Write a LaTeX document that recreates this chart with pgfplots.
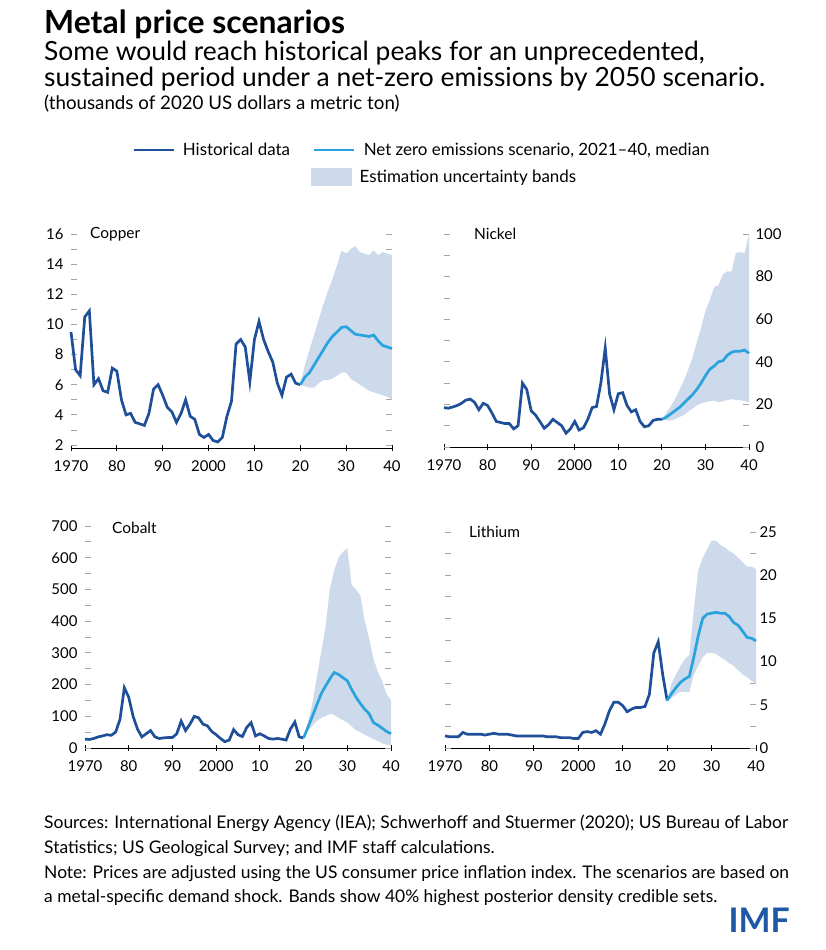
\documentclass[border=0pt]{standalone}
\usepackage{fontspec}
\setmainfont{Lato}
\usepackage{pgfplots}
\pgfplotsset{compat=1.18}
\usepackage{pgfplotstable}
\usepgfplotslibrary{fillbetween}

\definecolor{histblue}{RGB}{30,79,152}
\definecolor{medblue}{RGB}{41,163,221}
\definecolor{bandblue}{RGB}{204,218,235}
\definecolor{tickgray}{RGB}{165,165,165}
\definecolor{imfblue}{RGB}{31,88,164}

% historical series (year, value)
\pgfplotstableread{
year val
1970 9.5
1971 7.0
1972 6.6
1973 10.5
1974 10.9
1975 6.0
1976 6.4
1977 5.6
1978 5.5
1979 7.1
1980 6.9
1981 5.0
1982 4.0
1983 4.1
1984 3.5
1985 3.4
1986 3.3
1987 4.1
1988 5.7
1989 6.0
1990 5.3
1991 4.5
1992 4.2
1993 3.5
1994 4.1
1995 5.0
1996 3.9
1997 3.7
1998 2.7
1999 2.5
2000 2.7
2001 2.3
2002 2.2
2003 2.5
2004 3.9
2005 4.9
2006 8.7
2007 9.0
2008 8.5
2009 6.2
2010 9.0
2011 10.2
2012 9.0
2013 8.2
2014 7.5
2015 6.1
2016 5.3
2017 6.5
2018 6.7
2019 6.1
2020 6.0
}\copperhist

\pgfplotstableread{
year med lo hi
2020 6.0 6.0 6.0
2021 6.5 5.9 7.3
2022 6.8 5.8 8.3
2023 7.3 5.8 9.3
2024 7.8 6.1 10.3
2025 8.3 6.3 11.3
2026 8.8 6.3 12.2
2027 9.2 6.4 13.0
2028 9.5 6.6 13.9
2029 9.8 6.8 14.9
2030 9.85 6.8 14.7
2031 9.6 6.4 15.0
2032 9.35 6.2 15.2
2033 9.3 6.0 14.8
2034 9.25 5.8 14.7
2035 9.2 5.6 14.6
2036 9.3 5.5 14.9
2037 8.9 5.4 14.6
2038 8.6 5.3 14.8
2039 8.5 5.2 14.7
2040 8.4 5.0 14.6
}\copperproj

\pgfplotstableread{
year val
1970 18.5
1971 18.2
1972 18.8
1973 19.5
1974 20.5
1975 22.0
1976 22.5
1977 21.0
1978 17.5
1979 20.5
1980 19.5
1981 16.0
1982 12.0
1983 11.5
1984 11.0
1985 11.0
1986 8.5
1987 10.0
1988 30.0
1989 27.0
1990 17.0
1991 15.0
1992 12.0
1993 8.8
1994 10.5
1995 13.0
1996 11.5
1997 10.0
1998 6.5
1999 8.5
2000 12.0
2001 8.0
2002 9.0
2003 13.0
2004 18.5
2005 19.0
2006 30.0
2007 46.5
2008 25.0
2009 17.5
2010 25.0
2011 25.5
2012 19.5
2013 16.5
2014 17.5
2015 12.0
2016 9.5
2017 10.0
2018 12.5
2019 13.0
2020 13.0
}\nickelhist

\pgfplotstableread{
year med lo hi
2020 13.0 13.0 13.0
2021 14.0 12.5 16.0
2022 15.5 12.5 19.0
2023 17.0 13.0 22.5
2024 18.5 14.0 26.5
2025 20.5 15.0 31.0
2026 22.5 16.5 36.0
2027 24.5 18.0 42.0
2028 27.0 19.5 49.0
2029 30.0 20.5 56.0
2030 33.5 21.0 64.0
2031 36.5 21.5 69.0
2032 38.0 21.8 75.0
2033 40.0 21.0 76.0
2034 40.5 21.5 81.0
2035 43.0 22.0 82.5
2036 44.5 22.5 82.5
2037 45.0 22.0 91.0
2038 45.0 22.0 91.5
2039 45.5 21.5 91.0
2040 44.0 21.0 100.0
}\nickelproj

\pgfplotstableread{
year val
1970 28
1971 27
1972 30
1973 35
1974 38
1975 42
1976 40
1977 50
1978 90
1979 190
1980 160
1981 100
1982 60
1983 35
1984 45
1985 55
1986 35
1987 30
1988 32
1989 33
1990 33
1991 45
1992 85
1993 55
1994 75
1995 100
1996 95
1997 75
1998 70
1999 52
2000 42
2001 30
2002 20
2003 25
2004 58
2005 42
2006 36
2007 65
2008 80
2009 38
2010 45
2011 38
2012 30
2013 28
2014 30
2015 28
2016 25
2017 60
2018 82
2019 35
2020 32
}\cobalthist

\pgfplotstableread{
year med lo hi
2020 32 32 32
2021 65 55 80
2022 100 70 140
2023 135 85 220
2024 170 95 300
2025 195 100 380
2026 218 108 500
2027 238 105 560
2028 232 95 600
2029 222 88 618
2030 212 80 630
2031 185 68 515
2032 160 55 500
2033 140 50 480
2034 122 42 400
2035 108 35 345
2036 80 28 280
2037 72 22 240
2038 62 15 210
2039 52 10 170
2040 45 8 150
}\cobaltproj

\pgfplotstableread{
year val
1970 1.4
1971 1.3
1972 1.3
1973 1.3
1974 1.8
1975 1.6
1976 1.6
1977 1.6
1978 1.6
1979 1.5
1980 1.6
1981 1.7
1982 1.6
1983 1.6
1984 1.6
1985 1.5
1986 1.4
1987 1.4
1988 1.4
1989 1.4
1990 1.4
1991 1.4
1992 1.4
1993 1.3
1994 1.3
1995 1.3
1996 1.2
1997 1.2
1998 1.2
1999 1.1
2000 1.1
2001 1.8
2002 1.9
2003 1.8
2004 2.0
2005 1.6
2006 2.8
2007 4.3
2008 5.3
2009 5.3
2010 4.9
2011 4.2
2012 4.5
2013 4.7
2014 4.7
2015 4.8
2016 6.2
2017 11.0
2018 12.3
2019 8.5
2020 5.5
}\lithiumhist

\pgfplotstableread{
year med lo hi
2020 5.5 5.5 5.5
2021 6.3 5.8 7.5
2022 7.0 6.2 8.5
2023 7.6 6.5 9.5
2024 8.0 6.5 10.3
2025 8.3 6.5 10.8
2026 10.5 8.5 16.0
2027 13.0 9.5 20.5
2028 15.0 10.5 22.0
2029 15.5 11.0 23.0
2030 15.6 11.0 24.0
2031 15.7 10.9 24.0
2032 15.6 10.5 23.5
2033 15.6 10.2 23.2
2034 15.2 9.8 22.8
2035 14.5 9.5 22.5
2036 14.2 9.0 22.0
2037 13.5 8.5 21.5
2038 12.8 8.2 21.0
2039 12.7 7.8 21.0
2040 12.4 7.4 20.7
}\lithiumproj

\pgfplotsset{
  metal/.style={
    scale only axis, clip=false,
    xmin=1970, xmax=2040,
    xtick={1970,1980,...,2040},
    xticklabels={1970,80,90,2000,10,20,30,40},
    xtick pos=bottom,
    axis line style={draw=none},
    tick label style={font=\fontsize{15}{15}\selectfont},
    xticklabel style={yshift=-9bp},
    /pgf/number format/assume math mode=true,
    /pgf/number format/1000 sep={},
    xtick style={black, line width=0.8bp, yshift=-3bp},
    ytick style={tickgray, line width=0.8bp},
    major tick length=6bp, minor tick length=6bp,
    tick align=inside,
    minor y tick num=1,
    extra y tick labels={},
    extra y tick style={grid=major, major grid style={black, line width=0.9bp}, major tick length=0pt},
    legend style={draw=none, fill=none, inner sep=0pt,
      font=\fontsize{17}{17}\selectfont,
      /tikz/every odd column/.append style={column sep=6bp},
      /tikz/every even column/.append style={column sep=21bp}},
    legend cell align=left,
    legend image code/.code={\draw[#1] (0bp,0bp) -- (40bp,0bp);},
  },
  bandlo/.style={name path=lo, draw=none, forget plot},
  bandhi/.style={name path=hi, draw=none, forget plot},
  histline/.style={histblue, line width=2.7bp, forget plot},
  medline/.style={medblue, line width=2.7bp, forget plot},
}

\begin{document}
\begin{tikzpicture}
\path (0,0) rectangle (826bp,-950bp);

% Copper (carries the two line legend entries)
\begin{axis}[metal, at={(71bp,-448bp)}, anchor=south west,
  width=321bp, height=214bp, ymin=1.8, ymax=16,
  ytick={2,4,...,16}, extra y ticks={1.8},
  yticklabel style={xshift=-4bp},
  legend columns=-1,
  legend style={at={(0.19,1.3925)}, anchor=west},
  ]
  \addplot[bandhi] table[x=year, y=hi] {\copperproj};
  \addplot[bandlo] table[x=year, y=lo] {\copperproj};
  \addplot[bandblue, draw=none, forget plot] fill between[of=hi and lo];
  \addplot[histline] table[x=year, y=val] {\copperhist};
  \addplot[medline] table[x=year, y=med] {\copperproj};
  \addlegendimage{histblue, line width=2.7bp}
  \addlegendentry{Historical data}
  \addlegendimage{medblue, line width=2.7bp}
  \addlegendentry{Net zero emissions scenario, 2021–40, median}
\end{axis}

% Nickel (carries the band legend entry)
\begin{axis}[metal, at={(444bp,-447bp)}, anchor=south west,
  width=305bp, height=213bp, ymin=0, ymax=100,
  ytick={0,20,...,100}, extra y ticks={0},
  yticklabel pos=right, yticklabel style={xshift=3bp},
  legend style={at={(-0.436,1.2676)}, anchor=west},
  ]
  \addplot[bandhi] table[x=year, y=hi] {\nickelproj};
  \addplot[bandlo] table[x=year, y=lo] {\nickelproj};
  \addplot[bandblue, draw=none, forget plot] fill between[of=hi and lo];
  \addplot[histline] table[x=year, y=val] {\nickelhist};
  \addplot[medline] table[x=year, y=med] {\nickelproj};
  \addlegendimage{legend image code/.code={\fill[bandblue] (0bp,-8.5bp) rectangle (40bp,8.5bp);}}
  \addlegendentry{Estimation uncertainty bands}
\end{axis}

% Cobalt
\begin{axis}[metal, at={(85bp,-748bp)}, anchor=south west,
  width=306bp, height=222bp, ymin=0, ymax=700,
  ytick={0,100,...,700}, extra y ticks={0},
  yticklabel style={xshift=-4bp},
  ]
  \addplot[bandhi] table[x=year, y=hi] {\cobaltproj};
  \addplot[bandlo] table[x=year, y=lo] {\cobaltproj};
  \addplot[bandblue, draw=none, forget plot] fill between[of=hi and lo];
  \addplot[histline] table[x=year, y=val] {\cobalthist};
  \addplot[medline] table[x=year, y=med] {\cobaltproj};
\end{axis}

% Lithium
\begin{axis}[metal, at={(445bp,-748bp)}, anchor=south west,
  width=311bp, height=216bp, ymin=0, ymax=25,
  ytick={0,5,...,25}, extra y ticks={0},
  yticklabel pos=right,
  ]
  \addplot[bandhi] table[x=year, y=hi] {\lithiumproj};
  \addplot[bandlo] table[x=year, y=lo] {\lithiumproj};
  \addplot[bandblue, draw=none, forget plot] fill between[of=hi and lo];
  \addplot[histline] table[x=year, y=val] {\lithiumhist};
  \addplot[medline] table[x=year, y=med] {\lithiumproj};
\end{axis}

% panel names
\begin{scope}[every node/.style={anchor=west, inner sep=0pt, font=\fontsize{15.5}{15.5}\selectfont}]
  \node at (90bp,-234bp) {Copper};
  \node at (474bp,-234bp) {Nickel};
  \node at (112bp,-528bp) {Cobalt};
  \node at (469bp,-532bp) {Lithium};
\end{scope}

% titles
\node[anchor=base west, inner sep=0pt, font=\bfseries\fontsize{32}{32}\selectfont] at (44bp,-33bp) {Metal price scenarios};
\node[anchor=base west, inner sep=0pt, font=\fontsize{26.5}{26.5}\selectfont] at (44bp,-60bp) {Some would reach historical peaks for an unprecedented,};
\node[anchor=base west, inner sep=0pt, font=\fontsize{26.5}{26.5}\selectfont] at (44bp,-86bp) {sustained period under a net-zero emissions by 2050 scenario.};
\node[anchor=base west, inner sep=0pt, font=\fontsize{18.8}{18.8}\selectfont] at (44bp,-109bp) {(thousands of 2020 US dollars a metric ton)};

% footer
\begin{scope}[every node/.style={anchor=base west, inner sep=0pt, font=\fontsize{17.5}{17.5}\selectfont}]
  \node at (44bp,-828bp) {Sources: International Energy Agency (IEA); Schwerhoff and Stuermer (2020); US Bureau of Labor};
  \node at (44bp,-853bp) {Statistics; US Geological Survey; and IMF staff calculations.};
  \node at (44bp,-878bp) {Note: Prices are adjusted using the US consumer price inflation index. The scenarios are based on};
  \node at (44bp,-902bp) {a metal-specific demand shock. Bands show 40\% highest posterior density credible sets.};
\end{scope}
\node[anchor=base east, inner sep=0pt, text=imfblue, font=\bfseries\fontsize{34}{34}\selectfont] at (790bp,-932bp) {IMF};
\end{tikzpicture}
\end{document}
